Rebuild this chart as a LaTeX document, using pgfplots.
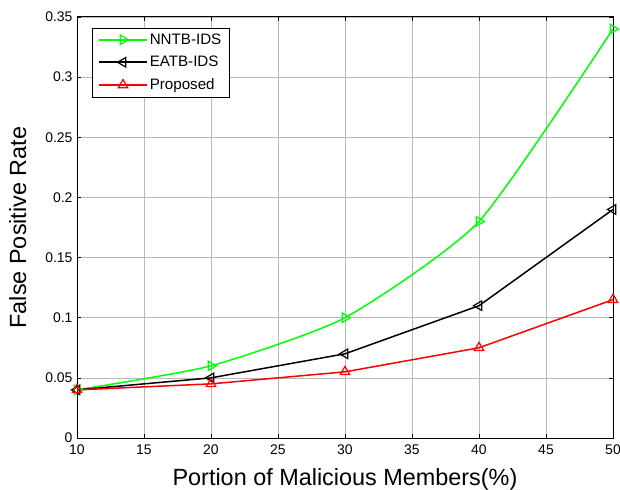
\documentclass[border=0pt]{standalone}
\usepackage{pgfplots}
\pgfplotsset{compat=1.18}
\usepackage{fontspec}
\setmainfont{Liberation Sans}
\definecolor{mgreen}{RGB}{0,255,0}
\definecolor{mred}{RGB}{255,0,0}
\begin{document}
\begin{tikzpicture}[x=1bp,y=1bp]
\begin{axis}[
  scale only axis,
  anchor=south west, at={(0,0)},
  width=536bp, height=421bp,
  xmin=10, xmax=50, ymin=0, ymax=0.35,
  xtick={10,15,...,50},
  ytick={0,0.05,0.1,0.15,0.2,0.25,0.3,0.35},
  yticklabels={0,0.05,0.1,0.15,0.2,0.25,0.3,0.35},
  /pgf/number format/assume math mode=true,
  tick align=inside,
  major tick length=4bp,
  grid=major,
  major grid style={gray!55, line width=0.6bp},
  axis line style={black, line width=1bp},
  tick style={black, line width=0.5bp},
  ticklabel style={font=\fontsize{14}{14}\selectfont},
  xticklabel style={yshift=-3bp},
  yticklabel style={xshift=-1bp},
  xlabel={Portion of Malicious Members(\%)},
  ylabel={False Positive Rate},
  label style={font=\fontsize{23.5}{23.5}\selectfont},
  xlabel style={at={(axis description cs:0.5,-0.112)}, anchor=base},
  ylabel style={at={(axis description cs:-0.095,0.5)}, anchor=base},
  legend style={at={(rel axis cs:0.028,0.975)}, anchor=north west,
    font=\fontsize{15.2}{15.2}\selectfont, draw=black,
    row sep=6.5bp, inner xsep=6bp, inner ysep=4bp},
  legend cell align=left,
  legend image code/.code={\draw[line width=1.6bp, mark repeat=2,mark phase=2] plot coordinates {(0bp,0bp) (24bp,0bp) (48bp,0bp)};},
  every axis plot/.append style={line width=1.5bp},
  legend image post style={sharp plot},
]
\addplot[mgreen, smooth, tension=0.35, mark=triangle, mark size=5.5bp, mark options={rotate=-90, solid, line width=1.2bp}]
  coordinates {(10,0.04) (20,0.06) (30,0.10) (40,0.18) (50,0.34)};
\addlegendentry{NNTB-IDS}
\addplot[black, mark=triangle, mark size=5.5bp, mark options={rotate=90, solid, line width=1.2bp}]
  coordinates {(10,0.04) (20,0.05) (30,0.07) (40,0.11) (50,0.19)};
\addlegendentry{EATB-IDS}
\addplot[mred, mark=triangle, mark size=5.5bp, mark options={solid, line width=1.2bp}]
  coordinates {(10,0.04) (20,0.045) (30,0.055) (40,0.075) (50,0.115)};
\addlegendentry{Proposed}
\end{axis}
\pgfresetboundingbox
\path[use as bounding box] (-77bp,-52bp) rectangle (543bp,438bp);
\end{tikzpicture}
\end{document}
